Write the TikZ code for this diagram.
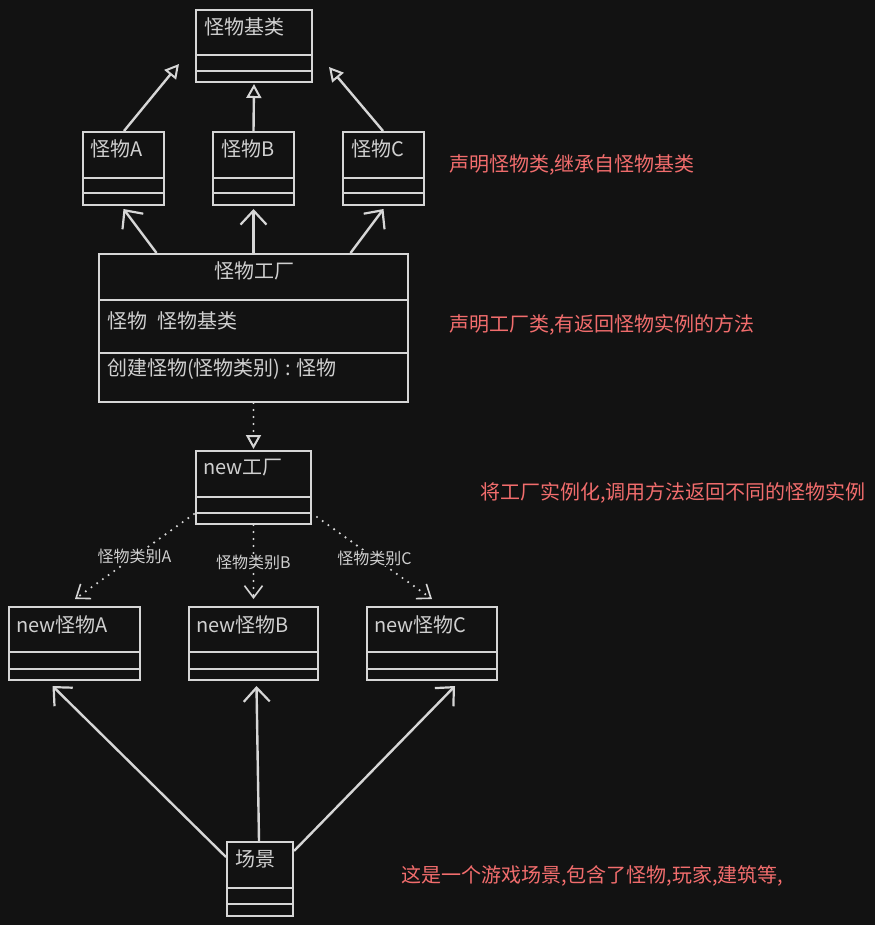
\documentclass[tikz,border=0pt]{standalone}
\usepackage{fontspec}
\setmainfont{Noto Sans CJK SC}
\usetikzlibrary{arrows.meta,calc,fit}
\definecolor{bg}{HTML}{121212}
\definecolor{ln}{HTML}{D6D6D6}
\definecolor{tx}{HTML}{D0D0D0}
\definecolor{rd}{HTML}{F26D6D}
\tikzset{
  boxline/.style={draw=ln,line width=2pt},
  fitbox/.style={draw=ln,line width=2pt,inner sep=0pt,rectangle},
  title/.style={text=tx,font=\fontsize{20}{22}\selectfont,inner sep=0pt,anchor=west},
  note/.style={text=rd,font=\fontsize{20}{22}\selectfont,inner sep=0pt,anchor=west},
  elabel/.style={text=tx,font=\fontsize{16}{18}\selectfont,fill=bg,inner sep=1pt},
  inherit/.style={draw=ln,line width=2.4pt,-{Triangle[open,length=14pt,width=15pt,line width=2pt]}},
  assoc/.style={draw=ln,line width=2.4pt,-{Straight Barb[length=14pt,width=26pt,line width=2.2pt]}},
  realize/.style={draw=ln,line width=2.4pt,line cap=round,dash pattern=on 0pt off 7pt,-{Triangle[open,length=14pt,width=15pt,line width=2pt]}},
  create/.style={draw=ln,line width=2.4pt,line cap=round,dash pattern=on 0pt off 7pt,-{Straight Barb[length=12pt,width=18pt,line width=1.6pt]}},
}
\newcommand\umlbox[7]{%
  \path (#2,#3) coordinate (#1-nw) (#4,#5) coordinate (#1-se);
  \node[fitbox,fit=(#1-nw)(#1-se)] (#1) {};
  \draw[boxline] (#2,#6) -- (#4,#6);
  \draw[boxline] (#2,#7) -- (#4,#7);
}
\begin{document}
\begin{tikzpicture}[x=1pt,y=-1pt]
\fill[bg] (0,0) rectangle (875,925);
\useasboundingbox (0,0) rectangle (875,925);

% boxes
\umlbox{bas}{196}{10}{312}{82}{55}{71}
\umlbox{mA}{83}{132}{164}{205}{178}{193}
\umlbox{mB}{213}{132}{294}{205}{178}{193}
\umlbox{mC}{343}{132}{424}{205}{178}{193}
\umlbox{fac}{99}{254}{408}{402}{300}{353}
\umlbox{nf}{196}{451}{311}{524}{497}{513}
\umlbox{nmA}{9}{607}{140}{680}{652}{669}
\umlbox{nmB}{189}{607}{318}{680}{652}{669}
\umlbox{nmC}{367}{607}{497}{680}{652}{669}
\umlbox{sc}{227}{842}{293}{916}{888}{904}

% titles
\node[title] (tbas) at (204,27) {怪物基类};
\node[title] (tmA) at (90,149) {怪物\textit{A}};
\node[title] (tmB) at (221,149) {怪物B};
\node[title] (tmC) at (351,149) {怪物C};
\node[title,anchor=center] (tfac) at (254,271) {怪物工厂};
\node[title] (tattr) at (107,321) {怪物\hspace{0.5em}怪物基类};
\node[title] (tmeth) at (107,369) {创建怪物(怪物类别) : 怪物};
\node[title] (tnf) at (203,468) {new工厂};
\node[title] (tnmA) at (16,625) {new怪物\textit{A}};
\node[title] (tnmB) at (196,625) {new怪物B};
\node[title] (tnmC) at (374,625) {new怪物C};
\node[title] (tsc) at (235,859) {场景};

% inheritance
\draw[inherit] ($(mA.north)+(0.5,0)$) -- ($(bas.south west)+(-16,-19)$);
\draw[inherit] (mB.north) -- ($(bas.south)+(0,1)$);
\draw[inherit] ($(mC.north)+(-0.5,0)$) -- ($(bas.south east)+(16,-16)$);

% factory associations
\draw[assoc] ($(fac.north)+(-97,0)$) -- ($(mA.south)+(0,3)$);
\draw[assoc] (fac.north) -- ($(mB.south)+(0,3)$);
\draw[assoc] ($(fac.north)+(97,0)$) -- ($(mC.south)+(0,3)$);

% realization
\draw[realize] (fac.south) -- ($(nf.north)+(0,-1)$);

% creation
\draw[create] ($(nf.south west)+(-1,-11)$) -- ($(nmA.north)+(0.5,-7)$)
  node[elabel,pos=0.5] (lA) {怪物类别\textit{A}};
\draw[create] (nf.south) -- ($(nmB.north)+(0,-7)$)
  node[elabel,pos=0.5] (lB) {怪物类别B};
\draw[create] ($(nf.south east)+(5,-8)$) -- ($(nmC.north)+(0,-7)$)
  node[elabel,pos=0.5] (lC) {怪物类别C};

% scene
\draw[assoc] ($(sc.north west)+(0,16)$) -- ($(nmA.south)+(-22,5)$);
\draw[assoc] ($(sc.north)+(-1,0)$) -- ($(nmB.south)+(3,5)$);
\draw[assoc] ($(sc.north east)+(0,10)$) -- ($(nmC.south)+(23,5)$);

% notes
\node[note] (n1) at (449,165) {声明怪物类,继承自怪物基类};
\node[note] (n2) at (449,325) {声明工厂类,有返回怪物实例的方法};
\node[note] (n3) at (480,493) {将工厂实例化,调用方法返回不同的怪物实例};
\node[note] (n4) at (401,876) {这是一个游戏场景,包含了怪物,玩家,建筑等,};
\end{tikzpicture}
\end{document}
